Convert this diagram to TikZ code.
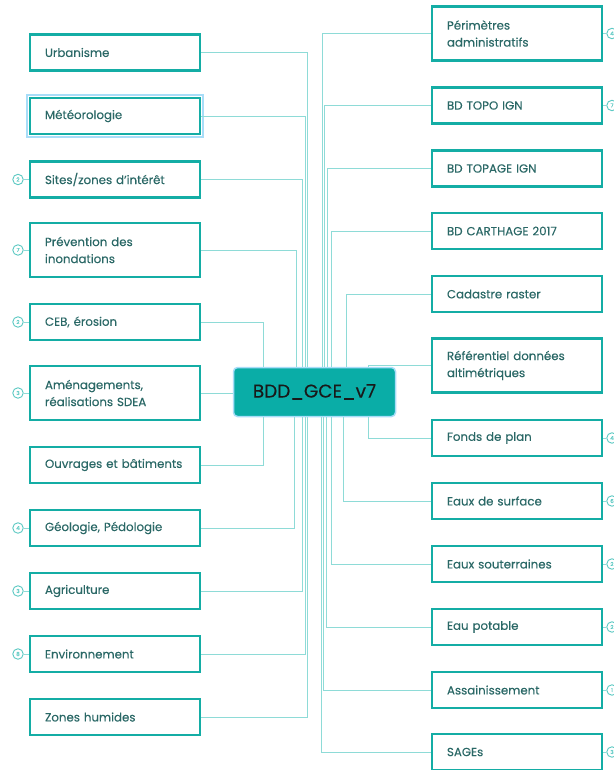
\documentclass[tikz,border=0pt]{standalone}
\usepackage{fontspec}
\setmainfont{Poppins}[FakeBold=0.25]
\definecolor{boxc}{HTML}{14ADA5}
\definecolor{linec}{HTML}{8EDBD7}
\definecolor{badgec}{HTML}{5CC9C3}
\definecolor{txtc}{HTML}{2A6866}
\definecolor{cfill}{HTML}{0AADA7}
\definecolor{halo}{HTML}{A8DDF8}
\begin{document}
\begin{tikzpicture}[x=1pt,y=-1pt,
 box/.style={draw=boxc, line width=2.6pt, minimum width=170pt, minimum height=36pt, text width=140pt, align=left, inner sep=0pt, text=txtc, font=\fontsize{11.8}{17}\selectfont},
 tall/.style={minimum height=54pt},
 conn/.style={draw=linec, line width=0.9pt},
 badge/.style={circle, draw=badgec, line width=0.9pt, minimum size=10.5pt, inner sep=0pt, text=badgec, font=\fontsize{5.5}{5.5}\selectfont},
]
\useasboundingbox[fill=white] (0,0) rectangle (613,770);

% central node
\node[draw=halo, line width=1.5pt, fill=cfill, rounded corners=4pt, minimum width=162pt, minimum height=49pt, inner sep=0pt, font=\fontsize{18.5}{18.5}\selectfont, text=black!90] (c) at (314.5,392) {BDD\_GCE\_v7};

% left boxes
\node[box] (urb) at (115,52.5) {Urbanisme};
\node[box] (met) at (115,116) {Météorologie};
\node[box] (sit) at (115,179.5) {Sites/zones d'intérêt};
\node[box,tall] (pre) at (115,250) {Prévention des\\inondations};
\node[box] (ceb) at (115,322) {CEB, érosion};
\node[box,tall] (ame) at (115,393) {Aménagements,\\réalisations SDEA};
\node[box] (ouv) at (115,465) {Ouvrages et bâtiments};
\node[box] (geo) at (115,528) {Géologie, Pédologie};
\node[box] (agr) at (115,591) {Agriculture};
\node[box] (env) at (115,654) {Environnement};
\node[box] (zon) at (115,717) {Zones humides};
\draw[halo, line width=1.6pt] ([shift={(-1.8,-1.8)}]met.north west) rectangle ([shift={(1.8,1.8)}]met.south east);

% right boxes
\node[box,tall] (per) at (517,33.5) {Périmètres\\administratifs};
\node[box] (bdt) at (517,105.5) {BD TOPO IGN};
\node[box] (bdg) at (517,168.5) {BD TOPAGE IGN};
\node[box] (bdc) at (517,231) {BD CARTHAGE 2017};
\node[box] (cad) at (517,294) {Cadastre raster};
\node[box,tall] (ref) at (517,365.5) {Référentiel données\\altimétriques};
\node[box] (fon) at (517,438) {Fonds de plan};
\node[box] (esu) at (517,501) {Eaux de surface};
\node[box] (eso) at (517,564) {Eaux souterraines};
\node[box] (eap) at (517,627) {Eau potable};
\node[box] (ass) at (517,690) {Assainissement};
\node[box] (sag) at (517,752) {SAGEs};

% x positions of vertical connector runs
\coordinate (xurb) at (307,0);
\coordinate (xmet) at (305,0);
\coordinate (xsit) at (302,0);
\coordinate (xpre) at (296,0);
\coordinate (xceb) at (263,0);
\coordinate (xouv) at (263,0);
\coordinate (xgeo) at (294,0);
\coordinate (xagr) at (302,0);
\coordinate (xenv) at (305,0);
\coordinate (xzon) at (307,0);
\coordinate (xper) at (322,0);
\coordinate (xbdt) at (324,0);
\coordinate (xbdg) at (327,0);
\coordinate (xbdc) at (331,0);
\coordinate (xcad) at (346,0);
\coordinate (xref) at (368,0);
\coordinate (xfon) at (368,0);
\coordinate (xesu) at (343,0);
\coordinate (xeso) at (331,0);
\coordinate (xeap) at (326,0);
\coordinate (xass) at (323,0);
\coordinate (xsag) at (321,0);

% left connectors
\foreach \n in {urb,met,sit,pre,ceb}
  \draw[conn] (\n.east) -| (c.north -| x\n);
\foreach \n in {ouv,geo,agr,env,zon}
  \draw[conn] (\n.east) -| (c.south -| x\n);
\draw[conn] (ame.east) -- (ame.east -| c.west);

% right connectors
\foreach \n in {per,bdt,bdg,bdc,cad,ref}
  \draw[conn] (\n.west) -| (c.north -| x\n);
\foreach \n in {fon,esu,eso,eap,ass,sag}
  \draw[conn] (\n.west) -| (c.south -| x\n);

% left badges
\foreach \n/\v in {sit/2,pre/7,ceb/2,ame/3,geo/4,agr/3,env/8}{
  \node[badge] (b\n) at (18,0 |- \n.west) {\v};
  \draw[conn] (b\n.east) -- (\n.west);
}
% right badges
\foreach \n/\v in {per/4,bdt/7,fon/4,esu/6,eso/2,eap/2,ass/1,sag/3}{
  \node[badge] (b\n) at (612,0 |- \n.east) {\v};
  \draw[conn] (\n.east) -- (b\n.west);
}
\end{tikzpicture}
\end{document}
